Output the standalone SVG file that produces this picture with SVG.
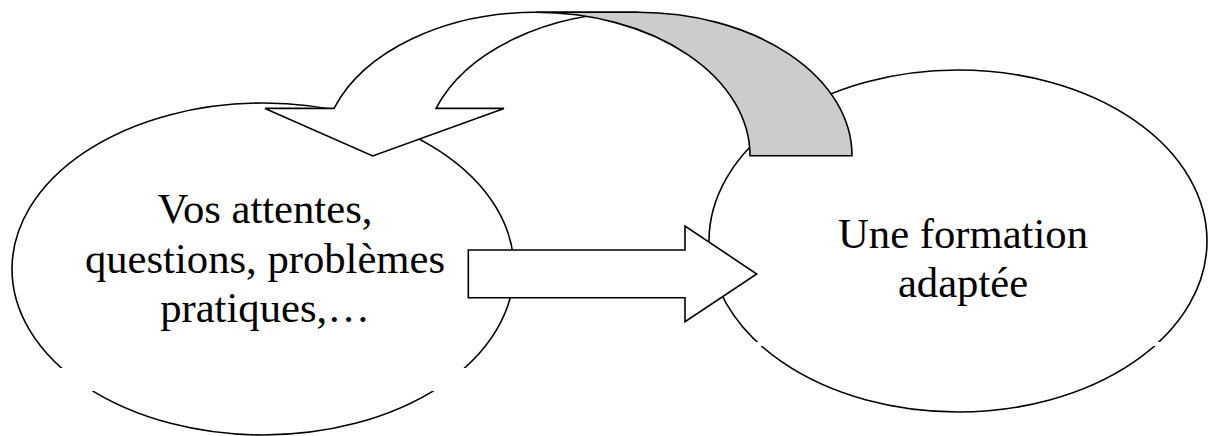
<svg xmlns="http://www.w3.org/2000/svg" width="1209" height="436" viewBox="0 0 1209 436">
  <style>
    .shape { stroke: #000; stroke-width: 1.6; stroke-linejoin: miter; }
    .white { fill: #fff; }
    .gray { fill: #cccccc; }
    .gap { fill: #fff; stroke: none; }
    .label { font-family: "Liberation Serif", "Times New Roman", serif; font-size: 42.67px; fill: #000; text-anchor: middle; }
  </style>
  <rect width="1209" height="436" fill="#fff"/>
  <g id="node-left">
    <ellipse class="shape white" cx="263" cy="269" rx="251" ry="166"/>
    <rect class="gap" x="40" y="368" width="450" height="23"/>
  </g>
  <g id="node-right">
    <ellipse class="shape white" cx="958" cy="241" rx="249" ry="171"/>
    <rect class="gap" x="730" y="342" width="460" height="4"/>
  </g>
  <g id="connectors">
    <path id="arrow-right" class="shape white" d="M468.3,250 L685,250 L685,226 L756.7,274 L685,321.7 L685,297.7 L468.3,297.7 Z"/>
    <path id="curved-arrow-front" class="shape white" d="M334,108.4 A214,143.4 0 0 1 536,12.3 L638,12.3 A214,143.4 0 0 0 436,108.4 L504,108.4 L372.7,156 L265,108.4 Z"/>
    <path id="curved-arrow-back" class="shape gray" d="M536,12.3 A214,143.4 0 0 1 750,155.7 L852,155.7 A214,143.4 0 0 0 638,12.3 Z"/>
  </g>
  <g id="labels">
    <text class="label" x="265" y="223.3">Vos attentes,</text>
    <text class="label" x="265" y="272.7">questions, problèmes</text>
    <text class="label" x="265" y="321.7">pratiques,…</text>
    <text class="label" x="963" y="248">Une formation</text>
    <text class="label" x="963" y="297">adaptée</text>
  </g>
</svg>
